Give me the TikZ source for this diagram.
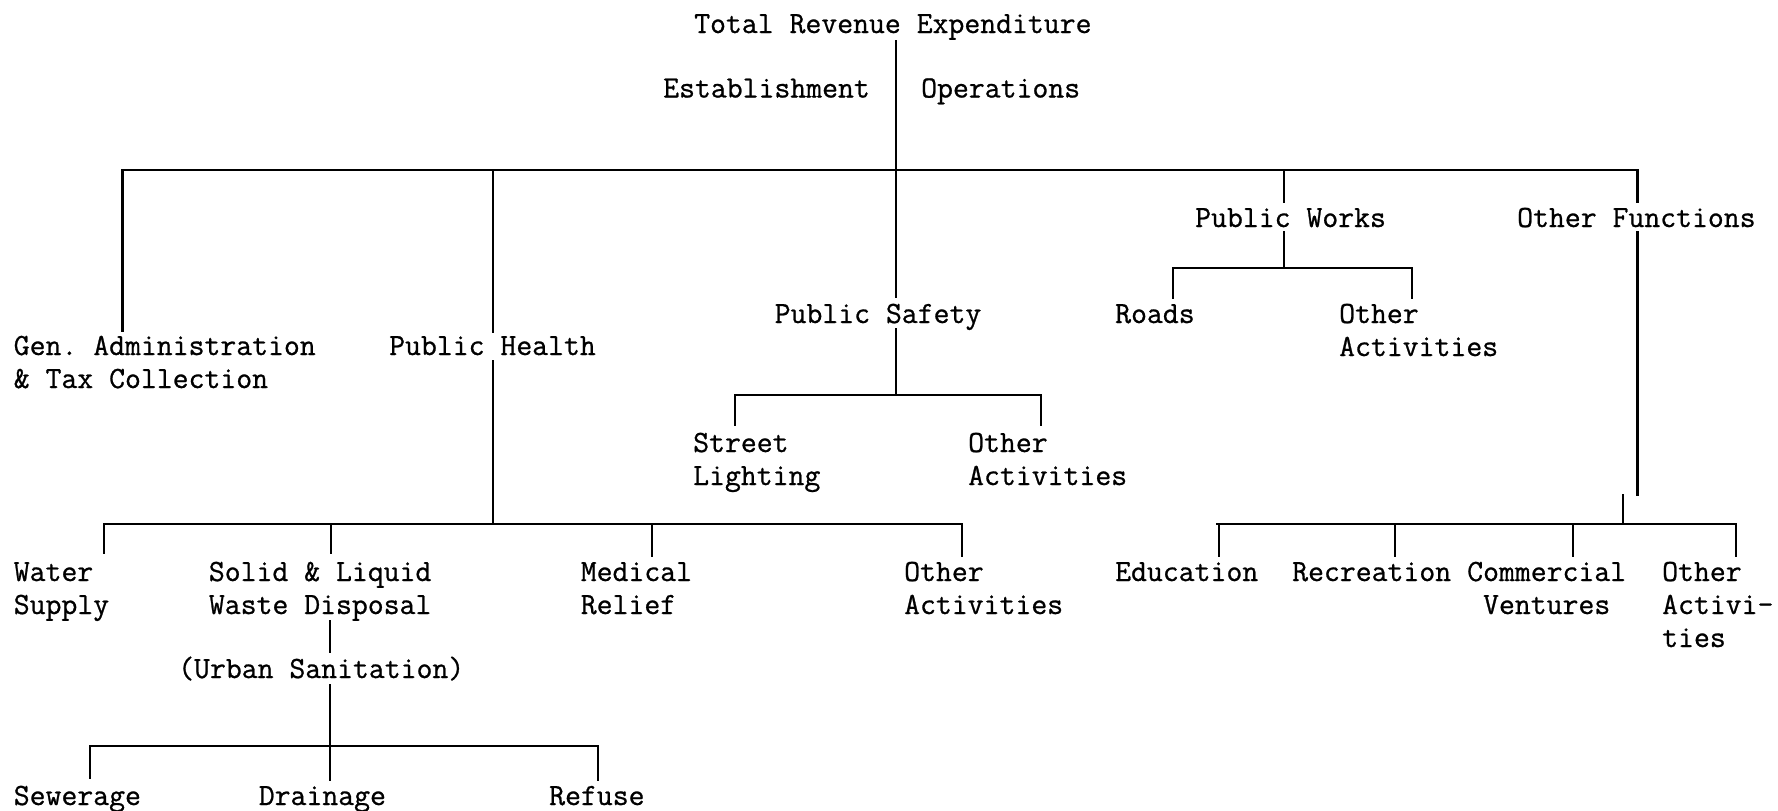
\documentclass[tikz,border=0pt]{standalone}
\usepackage{fontspec}
\newfontfamily\tw[FakeBold=0.8]{Latin Modern Mono}
\newcommand{\ml}[1]{\begin{tabular}[t]{@{}l@{}}#1\end{tabular}}
\newcommand{\mc}[1]{\begin{tabular}[t]{@{}c@{}}#1\end{tabular}}
\begin{document}
\frenchspacing
\begin{tikzpicture}[x=1pt,y=-1pt,
  lbl/.style={inner sep=0pt,anchor=base west,font=\tw\fontsize{30.86}{33}\selectfont},
  ln/.style={line width=2.4pt,line cap=rect}]
\useasboundingbox (0,0) rectangle (1778,811);
% labels
\node[lbl] (tre) at (694,33) {Total Revenue Expenditure};
\node[lbl] (est) at (663,97.5) {Establishment};
\node[lbl] (ops) at (921,97.5) {Operations};
\node[lbl] (pw) at (1195,227) {Public Works};
\node[lbl] (of) at (1517,227) {Other Functions};
\node[lbl] (ga) at (13.6,355) {\ml{Gen. Administration\\\& Tax Collection}};
\node[lbl] (ph) at (389,355) {Public Health};
\node[lbl] (ps) at (774.5,323) {Public Safety};
\node[lbl] (rd) at (1115,323) {Roads};
\node[lbl] (pwo) at (1339,323) {\ml{Other\\Activities}};
\node[lbl] (sl) at (693,452) {\ml{Street\\Lighting}};
\node[lbl] (pso) at (968,452) {\ml{Other\\Activities}};
\node[lbl] (ws) at (13.6,581) {\ml{Water\\Supply}};
\node[lbl] (sw) at (208.7,581) {\ml{Solid \& Liquid\\Waste Disposal}};
\node[lbl] (mr) at (580.6,581) {\ml{Medical\\Relief}};
\node[lbl] (pho) at (904,581) {\ml{Other\\Activities}};
\node[lbl] (ed) at (1115,581) {Education};
\node[lbl] (rc) at (1292,581) {Recreation};
\node[lbl] (cv) at (1467,581) {\mc{Commercial\\Ventures}};
\node[lbl] (ofo) at (1662,581) {\ml{Other\\Activi-\\ties}};
\node[lbl] (us) at (178,678) {(Urban Sanitation)};
\node[lbl] (sew) at (13.6,805) {Sewerage};
\node[lbl] (dr) at (258.6,805) {Drainage};
\node[lbl] (rf) at (549,805) {Refuse};
% junction coordinates
\coordinate (m0) at (896,41);
\coordinate (m1) at (896,170);
\coordinate (m2) at (896,297);
\coordinate (bl) at (122.5,170);
\coordinate (br) at (1637.5,170);
\coordinate (gaT) at (122.5,331);
\coordinate (phA) at (493,170);
\coordinate (phT) at (493,332);
\coordinate (pwA) at (1284,170);
\coordinate (pwT) at (1284,202);
\coordinate (ofT) at (1637.5,202);
% main trunk and top bar
\draw[ln] (m0) -- (m2);
\draw[ln] (bl) -- (br);
\draw[ln] (bl) -- (gaT);
\draw[ln] (phA) -- (phT);
\draw[ln] (pwA) -- (pwT);
\draw[ln] (br) -- (ofT);
% public safety
\coordinate (ps0) at (896,329);
\coordinate (ps1) at (896,395);
\coordinate (psl) at (735,395);
\coordinate (psr) at (1041,395);
\draw[ln] (ps0) -- (ps1);
\draw[ln] (psl) -- (psr);
\draw[ln] (psl) -- (735,425) coordinate (slT);
\draw[ln] (psr) -- (1041,425) coordinate (psoT);
% public works
\coordinate (pw0) at (1284,232);
\coordinate (pw1) at (1284,268);
\coordinate (pwl) at (1173,268);
\coordinate (pwr) at (1412,268);
\draw[ln] (pw0) -- (pw1);
\draw[ln] (pwl) -- (pwr);
\draw[ln] (pwl) -- (1173,298) coordinate (rdT);
\draw[ln] (pwr) -- (1412,298) coordinate (pwoT);
% public health
\coordinate (ph0) at (493,361);
\coordinate (ph1) at (493,524);
\coordinate (phl) at (104,524);
\coordinate (phr) at (962,524);
\draw[ln] (ph0) -- (ph1);
\draw[ln] (phl) -- (phr);
\draw[ln] (phl) -- (104,553) coordinate (wsT);
\draw[ln] (331,524) coordinate (swA) -- (331,553) coordinate (swT);
\draw[ln] (652,524) coordinate (mrA) -- (652,556) coordinate (mrT);
\draw[ln] (phr) -- (962,556) coordinate (phoT);
% solid waste
\draw[ln] (330,621) coordinate (sw0) -- (330,652) coordinate (usT);
\coordinate (us0) at (330,685);
\coordinate (us1) at (330,780);
\coordinate (usl) at (90,746);
\coordinate (usr) at (598,746);
\draw[ln] (us0) -- (us1);
\draw[ln] (usl) -- (usr);
\draw[ln] (usl) -- (90,778) coordinate (sewT);
\draw[ln] (usr) -- (598,780) coordinate (rfT);
% other functions
\coordinate (of0) at (1637.5,232);
\coordinate (of1) at (1637.5,495);
\coordinate (of2) at (1623,495);
\coordinate (of3) at (1623,524);
\coordinate (ofl) at (1217,524);
\coordinate (ofr) at (1736,524);
\draw[ln] (of0) -- (of1);
\draw[ln] (of2) -- (of3);
\draw[ln] (ofl) -- (ofr);
\draw[ln] (1219,524) coordinate (edA) -- (1219,556) coordinate (edT);
\draw[ln] (1395,524) coordinate (rcA) -- (1395,556) coordinate (rcT);
\draw[ln] (1573,524) coordinate (cvA) -- (1573,556) coordinate (cvT);
\draw[ln] (ofr) -- (1736,556) coordinate (ofoT);
\end{tikzpicture}
\end{document}
